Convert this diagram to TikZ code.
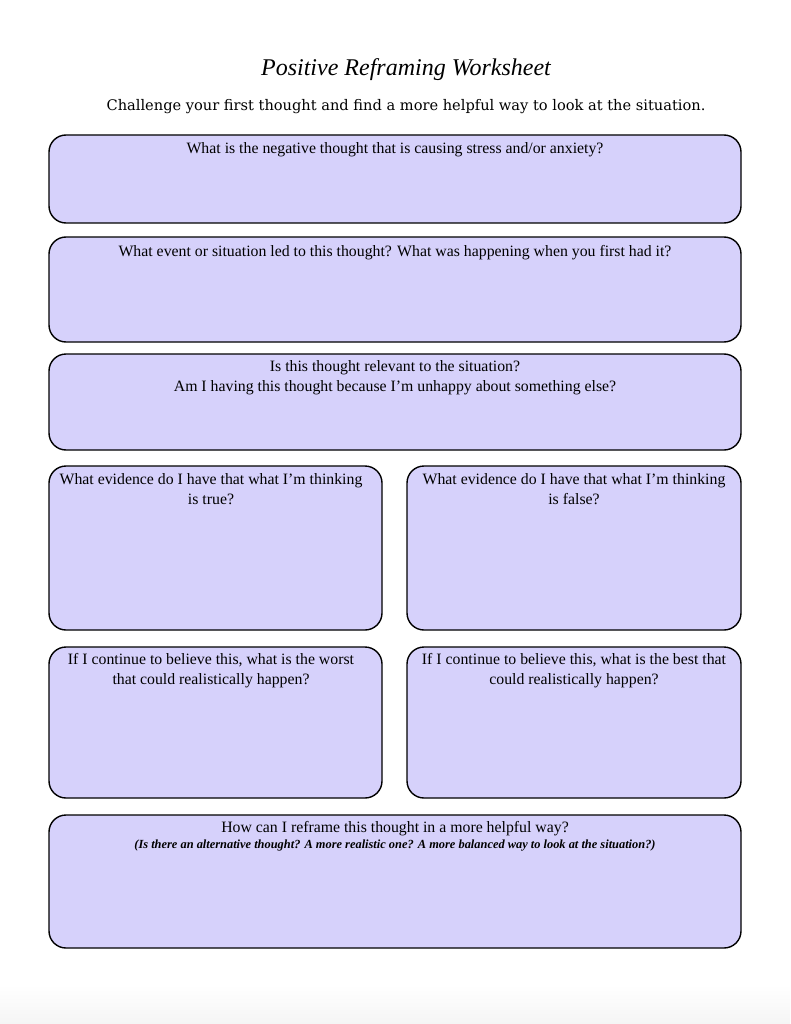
\documentclass[tikz,border=0pt]{standalone}
\usepackage{fontspec}
\setmainfont{Liberation Serif}
\newfontfamily\subf{DejaVu Serif}
\begin{document}
\begin{tikzpicture}[x=1pt,y=-1pt,
  box/.style={draw=black,line width=1.4pt,fill=lav,rounded corners=17pt},
  q/.style={anchor=north,align=center,font=\fontsize{15.8}{20.5}\selectfont,inner sep=0pt}]
\definecolor{lav}{HTML}{D6D1FB}
\useasboundingbox (0,0) rectangle (790,1024);
\fill[white] (0,0) rectangle (790,1024);
\shade[top color=white,bottom color=black!4] (0,985) rectangle (790,1024);
\node (title) at (406,70) {\fontsize{24}{28}\selectfont\itshape Positive Reframing Worksheet};
\node (sub) at (406,107) {\subf\fontsize{14.6}{17}\selectfont Challenge your first thought and find a more helpful way to look at the situation.};
\draw[box] (49,135) rectangle (741,223);
\node[q] (t1) at (395,142) {What is the negative thought that is causing stress and/or anxiety?};
\draw[box] (49,237) rectangle (741,342);
\node[q] (t2) at (395,245) {What event or situation led to this thought? What was happening when you first had it?};
\draw[box] (49,354) rectangle (741,450);
\node[q] (t3) at (395,360) {Is this thought relevant to the situation?\\Am I having this thought because I'm unhappy about something else?};
\draw[box] (49,466) rectangle (382,630);
\node[q] (t4) at (211,473) {What evidence do I have that what I'm thinking\\is true?};
\draw[box] (407,466) rectangle (741,630);
\node[q] (t5) at (574,473) {What evidence do I have that what I'm thinking\\is false?};
\draw[box] (49,647) rectangle (382,798);
\node[q] (t6) at (211,653) {If I continue to believe this, what is the worst\\that could realistically happen?};
\draw[box] (407,647) rectangle (741,798);
\node[q] (t7) at (574,653) {If I continue to believe this, what is the best that\\could realistically happen?};
\draw[box] (49,815) rectangle (741,948);
\node[q] (t8) at (395,821) {How can I reframe this thought in a more helpful way?\\[-4pt]{\fontsize{12.4}{14}\selectfont\itshape\bfseries (Is there an alternative thought? A more realistic one? A more balanced way to look at the situation?)}};
\end{tikzpicture}
\end{document}
